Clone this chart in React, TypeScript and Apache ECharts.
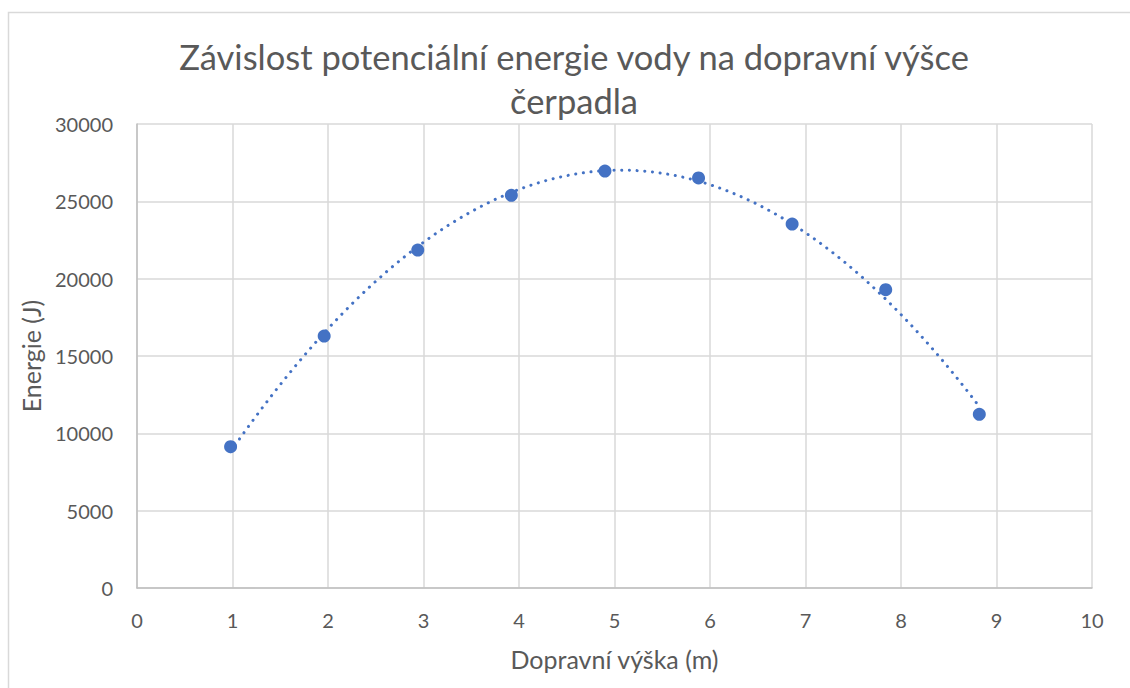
import React, { useEffect, useRef } from "react";
import * as echarts from "echarts";

const TITLE = "Závislost potenciální energie vody na dopravní výšce\nčerpadla";
const X_NAME = "Dopravní výška (m)";
const Y_NAME = "Energie (J)";

const heights = [0.98, 1.96, 2.94, 3.92, 4.9, 5.88, 6.86, 7.84, 8.82];
const energies = [9140, 16290, 21850, 25390, 26960, 26510, 23530, 19290, 11230];

const X_MIN = 0, X_MAX = 10, X_STEP = 1;
const Y_MIN = 0, Y_MAX = 30000, Y_STEP = 5000;

// least-squares quadratic trendline (as Excel's polynomial trendline, order 2)
function quadFit(xs: number[], ys: number[]) {
  const n = xs.length;
  let s1 = 0, s2 = 0, s3 = 0, s4 = 0, t0 = 0, t1 = 0, t2 = 0;
  for (let i = 0; i < n; i++) {
    const x = xs[i], y = ys[i];
    s1 += x; s2 += x * x; s3 += x * x * x; s4 += x * x * x * x;
    t0 += y; t1 += x * y; t2 += x * x * y;
  }
  const M = [
    [n, s1, s2, t0],
    [s1, s2, s3, t1],
    [s2, s3, s4, t2],
  ];
  for (let c = 0; c < 3; c++) {
    let p = c;
    for (let r = c + 1; r < 3; r++) if (Math.abs(M[r][c]) > Math.abs(M[p][c])) p = r;
    [M[c], M[p]] = [M[p], M[c]];
    for (let r = 0; r < 3; r++) {
      if (r === c) continue;
      const f = M[r][c] / M[c][c];
      for (let k = c; k < 4; k++) M[r][k] -= f * M[c][k];
    }
  }
  return [M[0][3] / M[0][0], M[1][3] / M[1][1], M[2][3] / M[2][2]];
}

export default function App() {
  const ref = useRef<HTMLDivElement>(null);
  useEffect(() => {
    if (!ref.current) return;
    const chart = echarts.init(ref.current, undefined, { renderer: "svg" });
    const [a, b, c] = quadFit(heights, energies);
    const x0 = Math.min(...heights), x1 = Math.max(...heights);
    const trend: number[][] = [];
    const N = 200;
    for (let i = 0; i <= N; i++) {
      const x = x0 + ((x1 - x0) * i) / N;
      trend.push([x, a + b * x + c * x * x]);
    }
    const font = "Lato, 'Noto Sans', sans-serif";
    const textColor = "#595959";
    chart.setOption({
      animation: false,
      backgroundColor: "#ffffff",
      graphic: [
        {
          type: "rect",
          shape: { x: 8.5, y: 12.5, width: 1200, height: 800 },
          style: { fill: "none", stroke: "#d9d9d9", lineWidth: 1.5 },
          silent: true,
        },
        {
          type: "text",
          x: 574,
          y: 34,
          silent: true,
          style: {
            text: TITLE,
            align: "center",
            verticalAlign: "top",
            fontFamily: font,
            fontSize: 34.5,
            fontWeight: "normal",
            fill: textColor,
            lineHeight: 44,
          },
        },
      ],
      grid: { left: 137, top: 124, right: 38, bottom: 100 },
      xAxis: {
        type: "value",
        min: X_MIN,
        max: X_MAX,
        interval: X_STEP,
        name: X_NAME,
        nameLocation: "middle",
        nameGap: 58,
        nameTextStyle: { fontFamily: font, fontSize: 25, color: textColor },
        axisLine: { show: true, onZero: false, lineStyle: { color: "#bfbfbf", width: 1.5 } },
        axisTick: { show: false },
        axisLabel: { fontFamily: font, fontSize: 20, color: textColor, margin: 22 },
        splitLine: { show: true, lineStyle: { color: "#d9d9d9", width: 1.5 } },
      },
      yAxis: {
        type: "value",
        min: Y_MIN,
        max: Y_MAX,
        interval: Y_STEP,
        name: Y_NAME,
        nameLocation: "middle",
        nameGap: 94,
        nameRotate: 90,
        nameTextStyle: { fontFamily: font, fontSize: 25, color: textColor },
        axisLine: { show: true, lineStyle: { color: "#bfbfbf", width: 1.5 } },
        axisTick: { show: false },
        axisLabel: {
          fontFamily: font,
          fontSize: 20,
          color: textColor,
          margin: 24,
          formatter: (v: number) => String(v),
        },
        splitLine: { show: true, lineStyle: { color: "#d9d9d9", width: 1.5 } },
      },
      series: [
        {
          type: "line",
          data: trend,
          showSymbol: false,
          symbol: "none",
          z: 2,
          lineStyle: { color: "#4472C4", width: 3, type: [0.1, 7.6], cap: "round" },
          silent: true,
        },
        {
          type: "scatter",
          data: heights.map((h, i) => [h, energies[i]]),
          symbol: "circle",
          symbolSize: 13,
          z: 3,
          itemStyle: { color: "#4472C4", opacity: 1 },
        },
      ],
    });
    return () => chart.dispose();
  }, []);
  return (
    <div
      ref={ref}
      style={{ position: "fixed", left: 0, top: 0, width: 1130, height: 688, background: "#fff" }}
    />
  );
}
